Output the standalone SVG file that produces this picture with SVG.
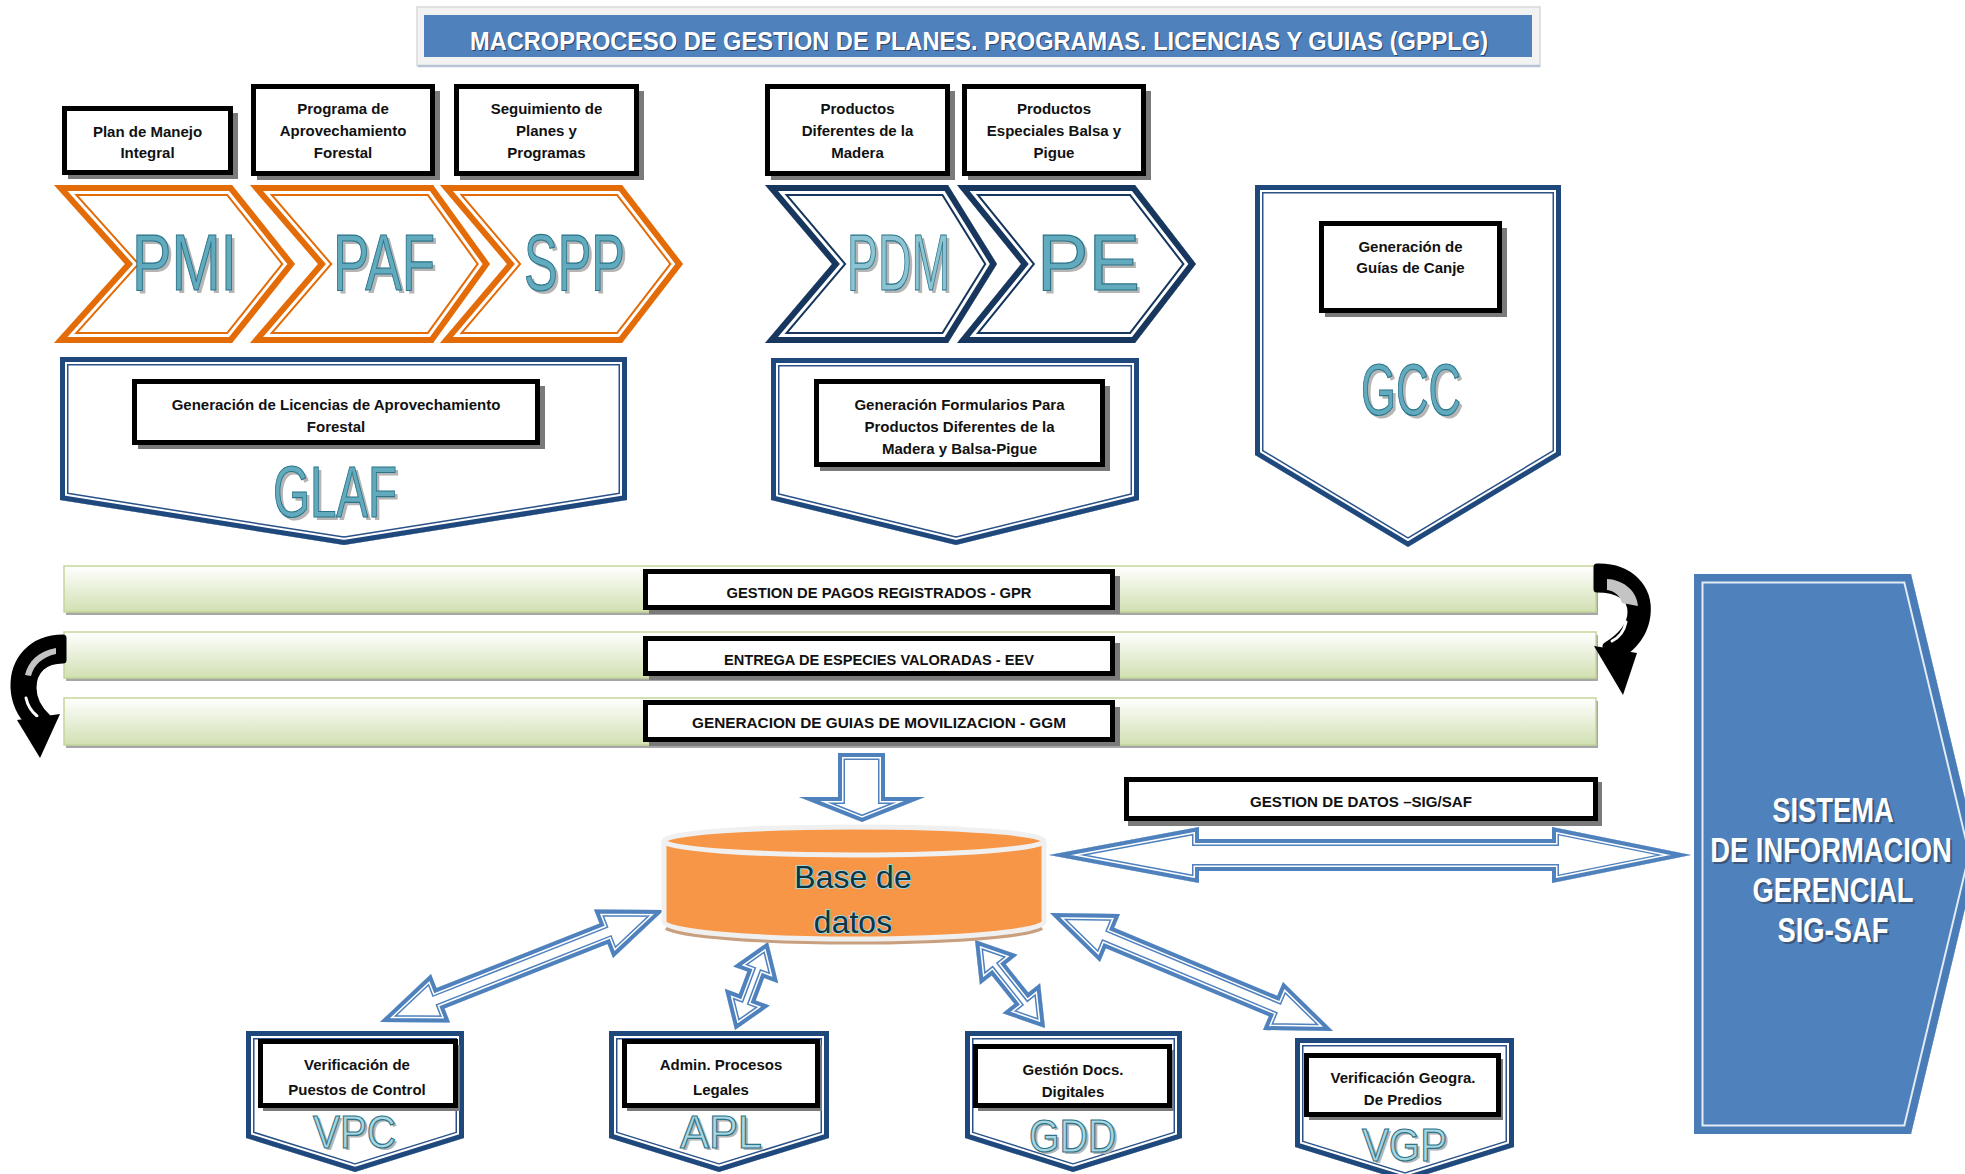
<svg xmlns="http://www.w3.org/2000/svg" xmlns:xlink="http://www.w3.org/1999/xlink" width="1965" height="1174" viewBox="0 0 1965 1174">
<style>
text{font-family:"Liberation Sans",Arial,sans-serif}
.sm{font-size:15px;font-weight:bold;text-anchor:middle;fill:#111}
.bt{font-size:15px;font-weight:bold;text-anchor:middle;fill:#111}
.lbl{fill:#fff;stroke:#000;stroke-width:5}
.shd{fill:#7a7a7a}
.big{text-anchor:middle;fill:#62aabd;stroke:#2b7489;stroke-width:1.2}
.bigs{text-anchor:middle;fill:#b5b5b5}
.o1{fill:none;stroke:#e36c09;stroke-width:22}
.o2{fill:none;stroke:#fff;stroke-width:18}
.o3{fill:none;stroke:#e36c09;stroke-width:12}
.n1{fill:none;stroke:#17375e;stroke-width:22}
.n2{fill:none;stroke:#fff;stroke-width:18}
.n3{fill:none;stroke:#17375e;stroke-width:12}
.p1{fill:none;stroke:#2a5288;stroke-width:17}
.p2{fill:none;stroke:#fff;stroke-width:14}
.p3{fill:none;stroke:#1f497d;stroke-width:10}
.a1{fill:none;stroke:#4f81bd;stroke-width:14}
.a2{fill:none;stroke:#fff;stroke-width:11}
.a3{fill:none;stroke:#4f81bd;stroke-width:8}
.bar{fill:url(#gbar);stroke:#c3d69b;stroke-width:1.5}
.barsh{fill:#a6a6a6}
.sig{font-size:36px;font-weight:bold;text-anchor:middle;fill:#fff}
.sigs{font-size:36px;font-weight:bold;text-anchor:middle;fill:#33475f;opacity:.7}
.dbt{font-size:32px;text-anchor:middle;fill:#12343c;stroke:#9fd4e2;stroke-width:2;paint-order:stroke}
</style>
<defs>
<linearGradient id="gbar" x1="0" y1="0" x2="0" y2="1">
<stop offset="0" stop-color="#ffffff"/><stop offset="1" stop-color="#d1e0b2"/>
</linearGradient>
<polygon id="s-pmi" points="54,185 232,185 295,264 232,343 54,343 125,264"/>
<polygon id="s-paf" points="250,185 433,185 490,264 433,343 250,343 318,264"/>
<polygon id="s-spp" points="440,185 622,185 683,264 622,343 440,343 507,264"/>
<polygon id="s-pdm" points="765,185 948,185 997,264 948,343 765,343 832,264"/>
<polygon id="s-pe" points="957,185 1135,185 1196,264 1135,343 957,343 1021,264"/>
<polygon id="s-glaf" points="60,357 627,357 627,500 344,545 60,500"/>
<polygon id="s-form" points="771,358 1139,358 1139,500 956,545 771,500"/>
<polygon id="s-gcc" points="1255,185 1561,185 1561,455 1408,547 1255,455"/>
<polygon id="s-vpc" points="246,1031 464,1031 464,1138 355,1172 246,1138"/>
<polygon id="s-apl" points="609,1031 829,1031 829,1138 719,1172 609,1138"/>
<polygon id="s-gdd" points="965,1031 1182,1031 1182,1138 1073,1172 965,1138"/>
<polygon id="s-vgp" points="1295,1038 1514,1038 1514,1147 1405,1181 1295,1147"/>
<polygon id="s-sig" points="1694,574 1911,574 1978,854 1911,1134 1694,1134"/>
<polygon id="s-down" points="838,753 885,753 885,797 925,797 862,822 799,797 838,797"/>
<polygon id="s-horz" points="1049,855 1199,827 1199,839 1552,839 1552,827 1691,855 1552,883 1552,871 1199,871 1199,883"/>
<polygon id="s-a1" points="664,910 594,909.6 599.5,923.6 436.5,988 431,974 380,1022 450,1022.4 444.5,1008.4 607.5,944 613,958"/>
<polygon id="s-a2" points="768,942 733.2,966.4 747.3,971.6 738.9,994 724.8,988.8 735,1030 769.8,1005.6 755.7,1000.4 764.1,978 778.2,983.2"/>
<polygon id="s-a3" points="975,940 979.9,984.8 991.7,975.4 1014.3,1003.8 1002.5,1013.2 1045,1028 1040.1,983.2 1028.3,992.6 1005.7,964.2 1017.5,954.8"/>
<polygon id="s-a4" points="1050,913 1100,962 1105.8,948.2 1268.8,1016.2 1263,1030 1333,1031 1283,982 1277.2,995.8 1114.2,927.8 1120,914"/>
<clipPath id="c-pmi"><use xlink:href="#s-pmi"/></clipPath>
<clipPath id="c-paf"><use xlink:href="#s-paf"/></clipPath>
<clipPath id="c-spp"><use xlink:href="#s-spp"/></clipPath>
<clipPath id="c-pdm"><use xlink:href="#s-pdm"/></clipPath>
<clipPath id="c-pe"><use xlink:href="#s-pe"/></clipPath>
<clipPath id="c-glaf"><use xlink:href="#s-glaf"/></clipPath>
<clipPath id="c-form"><use xlink:href="#s-form"/></clipPath>
<clipPath id="c-gcc"><use xlink:href="#s-gcc"/></clipPath>
<clipPath id="c-vpc"><use xlink:href="#s-vpc"/></clipPath>
<clipPath id="c-apl"><use xlink:href="#s-apl"/></clipPath>
<clipPath id="c-gdd"><use xlink:href="#s-gdd"/></clipPath>
<clipPath id="c-vgp"><use xlink:href="#s-vgp"/></clipPath>
<clipPath id="c-sig"><use xlink:href="#s-sig"/></clipPath>
<clipPath id="c-down"><use xlink:href="#s-down"/></clipPath>
<clipPath id="c-horz"><use xlink:href="#s-horz"/></clipPath>
<clipPath id="c-a1"><use xlink:href="#s-a1"/></clipPath>
<clipPath id="c-a2"><use xlink:href="#s-a2"/></clipPath>
<clipPath id="c-a3"><use xlink:href="#s-a3"/></clipPath>
<clipPath id="c-a4"><use xlink:href="#s-a4"/></clipPath>
</defs>
<rect width="1965" height="1174" fill="#fff"/>

<g id="title">
<rect x="417" y="7" width="1123" height="59" fill="#f2f2f2" stroke="#d9d9d9" stroke-width="1.5"/>
<line x1="418" y1="66" x2="1540" y2="66" stroke="#b8c4d4" stroke-width="2.5"/>
<rect x="424" y="15" width="1108" height="42" fill="#4f81bd"/>
<text x="980" y="51" font-size="25" font-weight="bold" text-anchor="middle" fill="#2b4468" textLength="1018" lengthAdjust="spacingAndGlyphs">MACROPROCESO DE GESTION DE PLANES. PROGRAMAS. LICENCIAS Y GUIAS (GPPLG)</text>
<text x="979" y="50" font-size="25" font-weight="bold" text-anchor="middle" fill="#fff" textLength="1018" lengthAdjust="spacingAndGlyphs">MACROPROCESO DE GESTION DE PLANES. PROGRAMAS. LICENCIAS Y GUIAS (GPPLG)</text>
</g>

<g id="box-pmi">
<rect class="shd" x="68" y="113" width="170" height="66"/>
<rect class="lbl" x="64.5" y="108.5" width="166" height="64"/>
<text class="sm" x="147.5" y="137">Plan de Manejo</text>
<text class="sm" x="147.5" y="158">Integral</text>
</g>
<g id="box-paf">
<rect class="shd" x="257" y="91" width="183" height="89"/>
<rect class="lbl" x="253.5" y="86.5" width="179" height="87"/>
<text class="sm" x="343" y="114">Programa de</text>
<text class="sm" x="343" y="136">Aprovechamiento</text>
<text class="sm" x="343" y="158">Forestal</text>
</g>
<g id="box-spp">
<rect class="shd" x="460" y="91" width="184" height="89"/>
<rect class="lbl" x="456.5" y="86.5" width="180" height="87"/>
<text class="sm" x="546.5" y="114">Seguimiento de</text>
<text class="sm" x="546.5" y="136">Planes y</text>
<text class="sm" x="546.5" y="158">Programas</text>
</g>
<g id="box-pdm">
<rect class="shd" x="771" y="91" width="184" height="89"/>
<rect class="lbl" x="767.5" y="86.5" width="180" height="87"/>
<text class="sm" x="857.5" y="114">Productos</text>
<text class="sm" x="857.5" y="136">Diferentes de la</text>
<text class="sm" x="857.5" y="158">Madera</text>
</g>
<g id="box-pe">
<rect class="shd" x="968" y="91" width="183" height="89"/>
<rect class="lbl" x="964.5" y="86.5" width="179" height="87"/>
<text class="sm" x="1054" y="114">Productos</text>
<text class="sm" x="1054" y="136">Especiales Balsa y</text>
<text class="sm" x="1054" y="158">Pigue</text>
</g>

<g id="pmi">
<use xlink:href="#s-pmi" fill="#fff"/>
<g clip-path="url(#c-pmi)"><use xlink:href="#s-pmi" class="o1"/><use xlink:href="#s-pmi" class="o2"/><use xlink:href="#s-pmi" class="o3"/></g>
<text class="bigs" x="187.5" y="293" font-size="80" textLength="105" lengthAdjust="spacingAndGlyphs">PMI</text>
<text class="big" x="184.5" y="290" font-size="80" textLength="105" lengthAdjust="spacingAndGlyphs">PMI</text>
</g>
<g id="paf">
<use xlink:href="#s-paf" fill="#fff"/>
<g clip-path="url(#c-paf)"><use xlink:href="#s-paf" class="o1"/><use xlink:href="#s-paf" class="o2"/><use xlink:href="#s-paf" class="o3"/></g>
<text class="bigs" x="387" y="293" font-size="80" textLength="102" lengthAdjust="spacingAndGlyphs">PAF</text>
<text class="big" x="384" y="290" font-size="80" textLength="102" lengthAdjust="spacingAndGlyphs">PAF</text>
</g>
<g id="spp">
<use xlink:href="#s-spp" fill="#fff"/>
<g clip-path="url(#c-spp)"><use xlink:href="#s-spp" class="o1"/><use xlink:href="#s-spp" class="o2"/><use xlink:href="#s-spp" class="o3"/></g>
<text class="bigs" x="577.5" y="293" font-size="80" textLength="101" lengthAdjust="spacingAndGlyphs">SPP</text>
<text class="big" x="574.5" y="290" font-size="80" textLength="101" lengthAdjust="spacingAndGlyphs">SPP</text>
</g>
<g id="pdm">
<use xlink:href="#s-pdm" fill="#fff"/>
<g clip-path="url(#c-pdm)"><use xlink:href="#s-pdm" class="n1"/><use xlink:href="#s-pdm" class="n2"/><use xlink:href="#s-pdm" class="n3"/></g>
<text class="bigs" x="901.5" y="293" font-size="80" textLength="103" lengthAdjust="spacingAndGlyphs">PDM</text>
<text class="big" x="898.5" y="290" font-size="80" textLength="103" lengthAdjust="spacingAndGlyphs" style="fill:#8cc4d3">PDM</text>
</g>
<g id="pe">
<use xlink:href="#s-pe" fill="#fff"/>
<g clip-path="url(#c-pe)"><use xlink:href="#s-pe" class="n1"/><use xlink:href="#s-pe" class="n2"/><use xlink:href="#s-pe" class="n3"/></g>
<text class="bigs" x="1091.5" y="293" font-size="80" textLength="103" lengthAdjust="spacingAndGlyphs">PE</text>
<text class="big" x="1088.5" y="290" font-size="80" textLength="103" lengthAdjust="spacingAndGlyphs">PE</text>
</g>

<g id="glaf">
<use xlink:href="#s-glaf" fill="#fff"/>
<g clip-path="url(#c-glaf)"><use xlink:href="#s-glaf" class="p1"/><use xlink:href="#s-glaf" class="p2"/><use xlink:href="#s-glaf" class="p3"/></g>
<rect class="shd" x="138" y="386" width="407" height="63"/>
<rect class="lbl" x="134.5" y="381.5" width="403" height="61"/>
<text class="sm" x="336" y="410">Generación de Licencias de Aprovechamiento</text>
<text class="sm" x="336" y="432">Forestal</text>
<text class="bigs" x="338" y="520" font-size="73" textLength="124" lengthAdjust="spacingAndGlyphs">GLAF</text>
<text class="big" x="335" y="517" font-size="73" textLength="124" lengthAdjust="spacingAndGlyphs">GLAF</text>
</g>
<g id="form">
<use xlink:href="#s-form" fill="#fff"/>
<g clip-path="url(#c-form)"><use xlink:href="#s-form" class="p1"/><use xlink:href="#s-form" class="p2"/><use xlink:href="#s-form" class="p3"/></g>
<rect class="shd" x="820" y="386" width="290" height="85"/>
<rect class="lbl" x="816.5" y="381.5" width="286" height="83"/>
<text class="sm" x="959.5" y="410">Generación Formularios Para</text>
<text class="sm" x="959.5" y="432">Productos Diferentes de la</text>
<text class="sm" x="959.5" y="454">Madera y Balsa-Pigue</text>
</g>
<g id="gcc">
<use xlink:href="#s-gcc" fill="#fff"/>
<g clip-path="url(#c-gcc)"><use xlink:href="#s-gcc" class="p1"/><use xlink:href="#s-gcc" class="p2"/><use xlink:href="#s-gcc" class="p3"/></g>
<rect class="shd" x="1325" y="228" width="182" height="89"/>
<rect class="lbl" x="1321.5" y="223.5" width="178" height="87"/>
<text class="sm" x="1410.5" y="252">Generación de</text>
<text class="sm" x="1410.5" y="273">Guías de Canje</text>
<text class="bigs" x="1414" y="418" font-size="73" textLength="100" lengthAdjust="spacingAndGlyphs">GCC</text>
<text class="big" x="1411" y="415" font-size="73" textLength="100" lengthAdjust="spacingAndGlyphs">GCC</text>
</g>

<g id="gpr">
<rect class="barsh" x="66" y="569" width="1532" height="46"/>
<rect class="bar" x="64" y="566" width="1532" height="46"/>
<rect class="shd" x="649" y="576" width="471" height="38"/>
<rect class="lbl" x="645.5" y="571.5" width="467" height="36"/>
<text class="bt" x="879" y="598" textLength="305" lengthAdjust="spacingAndGlyphs">GESTION DE PAGOS REGISTRADOS - GPR</text>
</g>
<g id="eev">
<rect class="barsh" x="66" y="635" width="1532" height="46"/>
<rect class="bar" x="64" y="632" width="1532" height="46"/>
<rect class="shd" x="649" y="643" width="471" height="37"/>
<rect class="lbl" x="645.5" y="638.5" width="467" height="35"/>
<text class="bt" x="879" y="665" textLength="310" lengthAdjust="spacingAndGlyphs">ENTREGA DE ESPECIES VALORADAS - EEV</text>
</g>
<g id="ggm">
<rect class="barsh" x="66" y="701" width="1532" height="47"/>
<rect class="bar" x="64" y="698" width="1532" height="47"/>
<rect class="shd" x="649" y="707" width="471" height="39"/>
<rect class="lbl" x="645.5" y="702.5" width="467" height="37"/>
<text class="bt" x="879" y="728" textLength="374" lengthAdjust="spacingAndGlyphs">GENERACION DE GUIAS DE MOVILIZACION - GGM</text>
</g>

<g id="connectors">
<g id="loop-right">
<path d="M1597,567 C1630,566 1650,588 1647,615 C1645,632 1636,643 1626,651 L1606,646 C1622,636 1631,625 1631,612 C1631,597 1618,589 1597,589 Z" fill="#000" stroke="#000" stroke-width="7" stroke-linejoin="round"/>
<path d="M1607,579 C1625,580 1637,592 1638,606 L1622,603 C1620,595 1614,591 1607,590 Z" fill="#c4c4c4"/>
<path d="M1626,622 C1624,632 1618,638 1612,641" fill="none" stroke="#fff" stroke-width="3" stroke-linecap="round"/>
<polygon points="1594,646 1637,653 1623,695" fill="#000"/>
</g>
<g id="loop-left">
<path d="M63,638 C32,638 13,660 14,688 C15,706 22,716 30,724 L48,718 C38,709 33,699 33,688 C33,670 45,660 63,660 Z" fill="#000" stroke="#000" stroke-width="7" stroke-linejoin="round"/>
<path d="M56,648 C38,651 28,662 25,675 L31,676 C34,665 42,657 56,654 Z" fill="#c4c4c4"/>
<path d="M26,698 C28,707 32,712 37,716" fill="none" stroke="#fff" stroke-width="3" stroke-linecap="round"/>
<polygon points="17,720 60,714 40,758" fill="#000"/>
</g>
<g id="arr-down">
<use xlink:href="#s-down" fill="#fff"/>
<g clip-path="url(#c-down)"><use xlink:href="#s-down" class="a1"/><use xlink:href="#s-down" class="a2"/><use xlink:href="#s-down" class="a3"/></g>
</g>
<g id="arr-sig">
<use xlink:href="#s-horz" fill="#fff"/>
<g clip-path="url(#c-horz)"><use xlink:href="#s-horz" class="a1"/><use xlink:href="#s-horz" class="a2"/><use xlink:href="#s-horz" class="a3"/></g>
</g>
<g id="arr-vpc">
<use xlink:href="#s-a1" fill="#fff"/>
<g clip-path="url(#c-a1)"><use xlink:href="#s-a1" class="a1"/><use xlink:href="#s-a1" class="a2"/><use xlink:href="#s-a1" class="a3"/></g>
</g>
<g id="arr-apl">
<use xlink:href="#s-a2" fill="#fff"/>
<g clip-path="url(#c-a2)"><use xlink:href="#s-a2" class="a1"/><use xlink:href="#s-a2" class="a2"/><use xlink:href="#s-a2" class="a3"/></g>
</g>
<g id="arr-gdd">
<use xlink:href="#s-a3" fill="#fff"/>
<g clip-path="url(#c-a3)"><use xlink:href="#s-a3" class="a1"/><use xlink:href="#s-a3" class="a2"/><use xlink:href="#s-a3" class="a3"/></g>
</g>
<g id="arr-vgp">
<use xlink:href="#s-a4" fill="#fff"/>
<g clip-path="url(#c-a4)"><use xlink:href="#s-a4" class="a1"/><use xlink:href="#s-a4" class="a2"/><use xlink:href="#s-a4" class="a3"/></g>
</g>
</g>

<g id="gdatos">
<rect class="shd" x="1128" y="782" width="474" height="44"/>
<rect class="lbl" x="1126.5" y="779.5" width="469" height="39"/>
<text class="bt" x="1361" y="807" textLength="222" lengthAdjust="spacingAndGlyphs">GESTION DE DATOS –SIG/SAF</text>
</g>

<g id="db">
<path d="M666,928 A190,17 0 0 0 1042,928" fill="none" stroke="#c9a07f" stroke-width="4"/>
<path d="M664,842 L664,922 A190,17 0 0 0 1044,922 L1044,842 Z" fill="#f79646"/>
<path d="M664,842 L664,922 A190,17 0 0 0 1044,922 L1044,842" fill="none" stroke="#f0f0f0" stroke-width="5"/>
<ellipse cx="854" cy="841" rx="190" ry="14" fill="#f79646" stroke="#f0f0f0" stroke-width="5"/>
<text class="dbt" x="853" y="888">Base de</text>
<text class="dbt" x="853" y="933">datos</text>
</g>

<g id="sig">
<use xlink:href="#s-sig" fill="#4f81bd"/>
<g clip-path="url(#c-sig)"><use xlink:href="#s-sig" fill="none" stroke="#e3ebf5" stroke-width="19"/><use xlink:href="#s-sig" fill="none" stroke="#4a7cb8" stroke-width="15"/></g>
<g transform="translate(1835,824) scale(0.76,1)"><text class="sigs" x="0" y="0">SISTEMA</text></g>
<g transform="translate(1833,864) scale(0.76,1)"><text class="sigs" x="0" y="0">DE INFORMACION</text></g>
<g transform="translate(1835,904) scale(0.76,1)"><text class="sigs" x="0" y="0">GERENCIAL</text></g>
<g transform="translate(1835,944) scale(0.76,1)"><text class="sigs" x="0" y="0">SIG-SAF</text></g>
<g transform="translate(1833,822) scale(0.76,1)"><text class="sig" x="0" y="0">SISTEMA</text></g>
<g transform="translate(1831,862) scale(0.76,1)"><text class="sig" x="0" y="0">DE INFORMACION</text></g>
<g transform="translate(1833,902) scale(0.76,1)"><text class="sig" x="0" y="0">GERENCIAL</text></g>
<g transform="translate(1833,942) scale(0.76,1)"><text class="sig" x="0" y="0">SIG-SAF</text></g>
</g>

<g id="vpc">
<use xlink:href="#s-vpc" fill="#fff"/>
<g clip-path="url(#c-vpc)"><use xlink:href="#s-vpc" class="p1"/><use xlink:href="#s-vpc" class="p2"/><use xlink:href="#s-vpc" class="p3"/></g>
<rect class="shd" x="263" y="1045" width="197" height="66"/>
<rect class="lbl" x="260.5" y="1041.5" width="195" height="64"/>
<text class="sm" x="357" y="1070">Verificación de</text>
<text class="sm" x="357" y="1095">Puestos de Control</text>
<text class="bigs" x="357" y="1150" font-size="46" textLength="83" lengthAdjust="spacingAndGlyphs">VPC</text>
<text class="big" x="354.5" y="1148" font-size="46" textLength="83" lengthAdjust="spacingAndGlyphs" style="fill:#a9d6e1">VPC</text>
</g>
<g id="apl">
<use xlink:href="#s-apl" fill="#fff"/>
<g clip-path="url(#c-apl)"><use xlink:href="#s-apl" class="p1"/><use xlink:href="#s-apl" class="p2"/><use xlink:href="#s-apl" class="p3"/></g>
<rect class="shd" x="627" y="1045" width="195" height="66"/>
<rect class="lbl" x="624.5" y="1041.5" width="193" height="64"/>
<text class="sm" x="721" y="1070">Admin. Procesos</text>
<text class="sm" x="721" y="1095">Legales</text>
<text class="bigs" x="723.5" y="1150" font-size="46" textLength="82" lengthAdjust="spacingAndGlyphs">APL</text>
<text class="big" x="721" y="1148" font-size="46" textLength="82" lengthAdjust="spacingAndGlyphs" style="fill:#a9d6e1">APL</text>
</g>
<g id="gdd">
<use xlink:href="#s-gdd" fill="#fff"/>
<g clip-path="url(#c-gdd)"><use xlink:href="#s-gdd" class="p1"/><use xlink:href="#s-gdd" class="p2"/><use xlink:href="#s-gdd" class="p3"/></g>
<rect class="shd" x="978" y="1050" width="196" height="61"/>
<rect class="lbl" x="975.5" y="1046.5" width="194" height="59"/>
<text class="sm" x="1073" y="1075">Gestión Docs.</text>
<text class="sm" x="1073" y="1097">Digitales</text>
<text class="bigs" x="1075" y="1154" font-size="46" textLength="87" lengthAdjust="spacingAndGlyphs">GDD</text>
<text class="big" x="1072.5" y="1152" font-size="46" textLength="87" lengthAdjust="spacingAndGlyphs" style="fill:#a9d6e1">GDD</text>
</g>
<g id="vgp">
<use xlink:href="#s-vgp" fill="#fff"/>
<g clip-path="url(#c-vgp)"><use xlink:href="#s-vgp" class="p1"/><use xlink:href="#s-vgp" class="p2"/><use xlink:href="#s-vgp" class="p3"/></g>
<rect class="shd" x="1309" y="1059" width="194" height="61"/>
<rect class="lbl" x="1306.5" y="1055.5" width="192" height="59"/>
<text class="sm" x="1403" y="1083">Verificación Geogra.</text>
<text class="sm" x="1403" y="1105">De Predios</text>
<text class="bigs" x="1407" y="1163" font-size="46" textLength="85" lengthAdjust="spacingAndGlyphs">VGP</text>
<text class="big" x="1404.5" y="1161" font-size="46" textLength="85" lengthAdjust="spacingAndGlyphs" style="fill:#a9d6e1">VGP</text>
</g>
</svg>
